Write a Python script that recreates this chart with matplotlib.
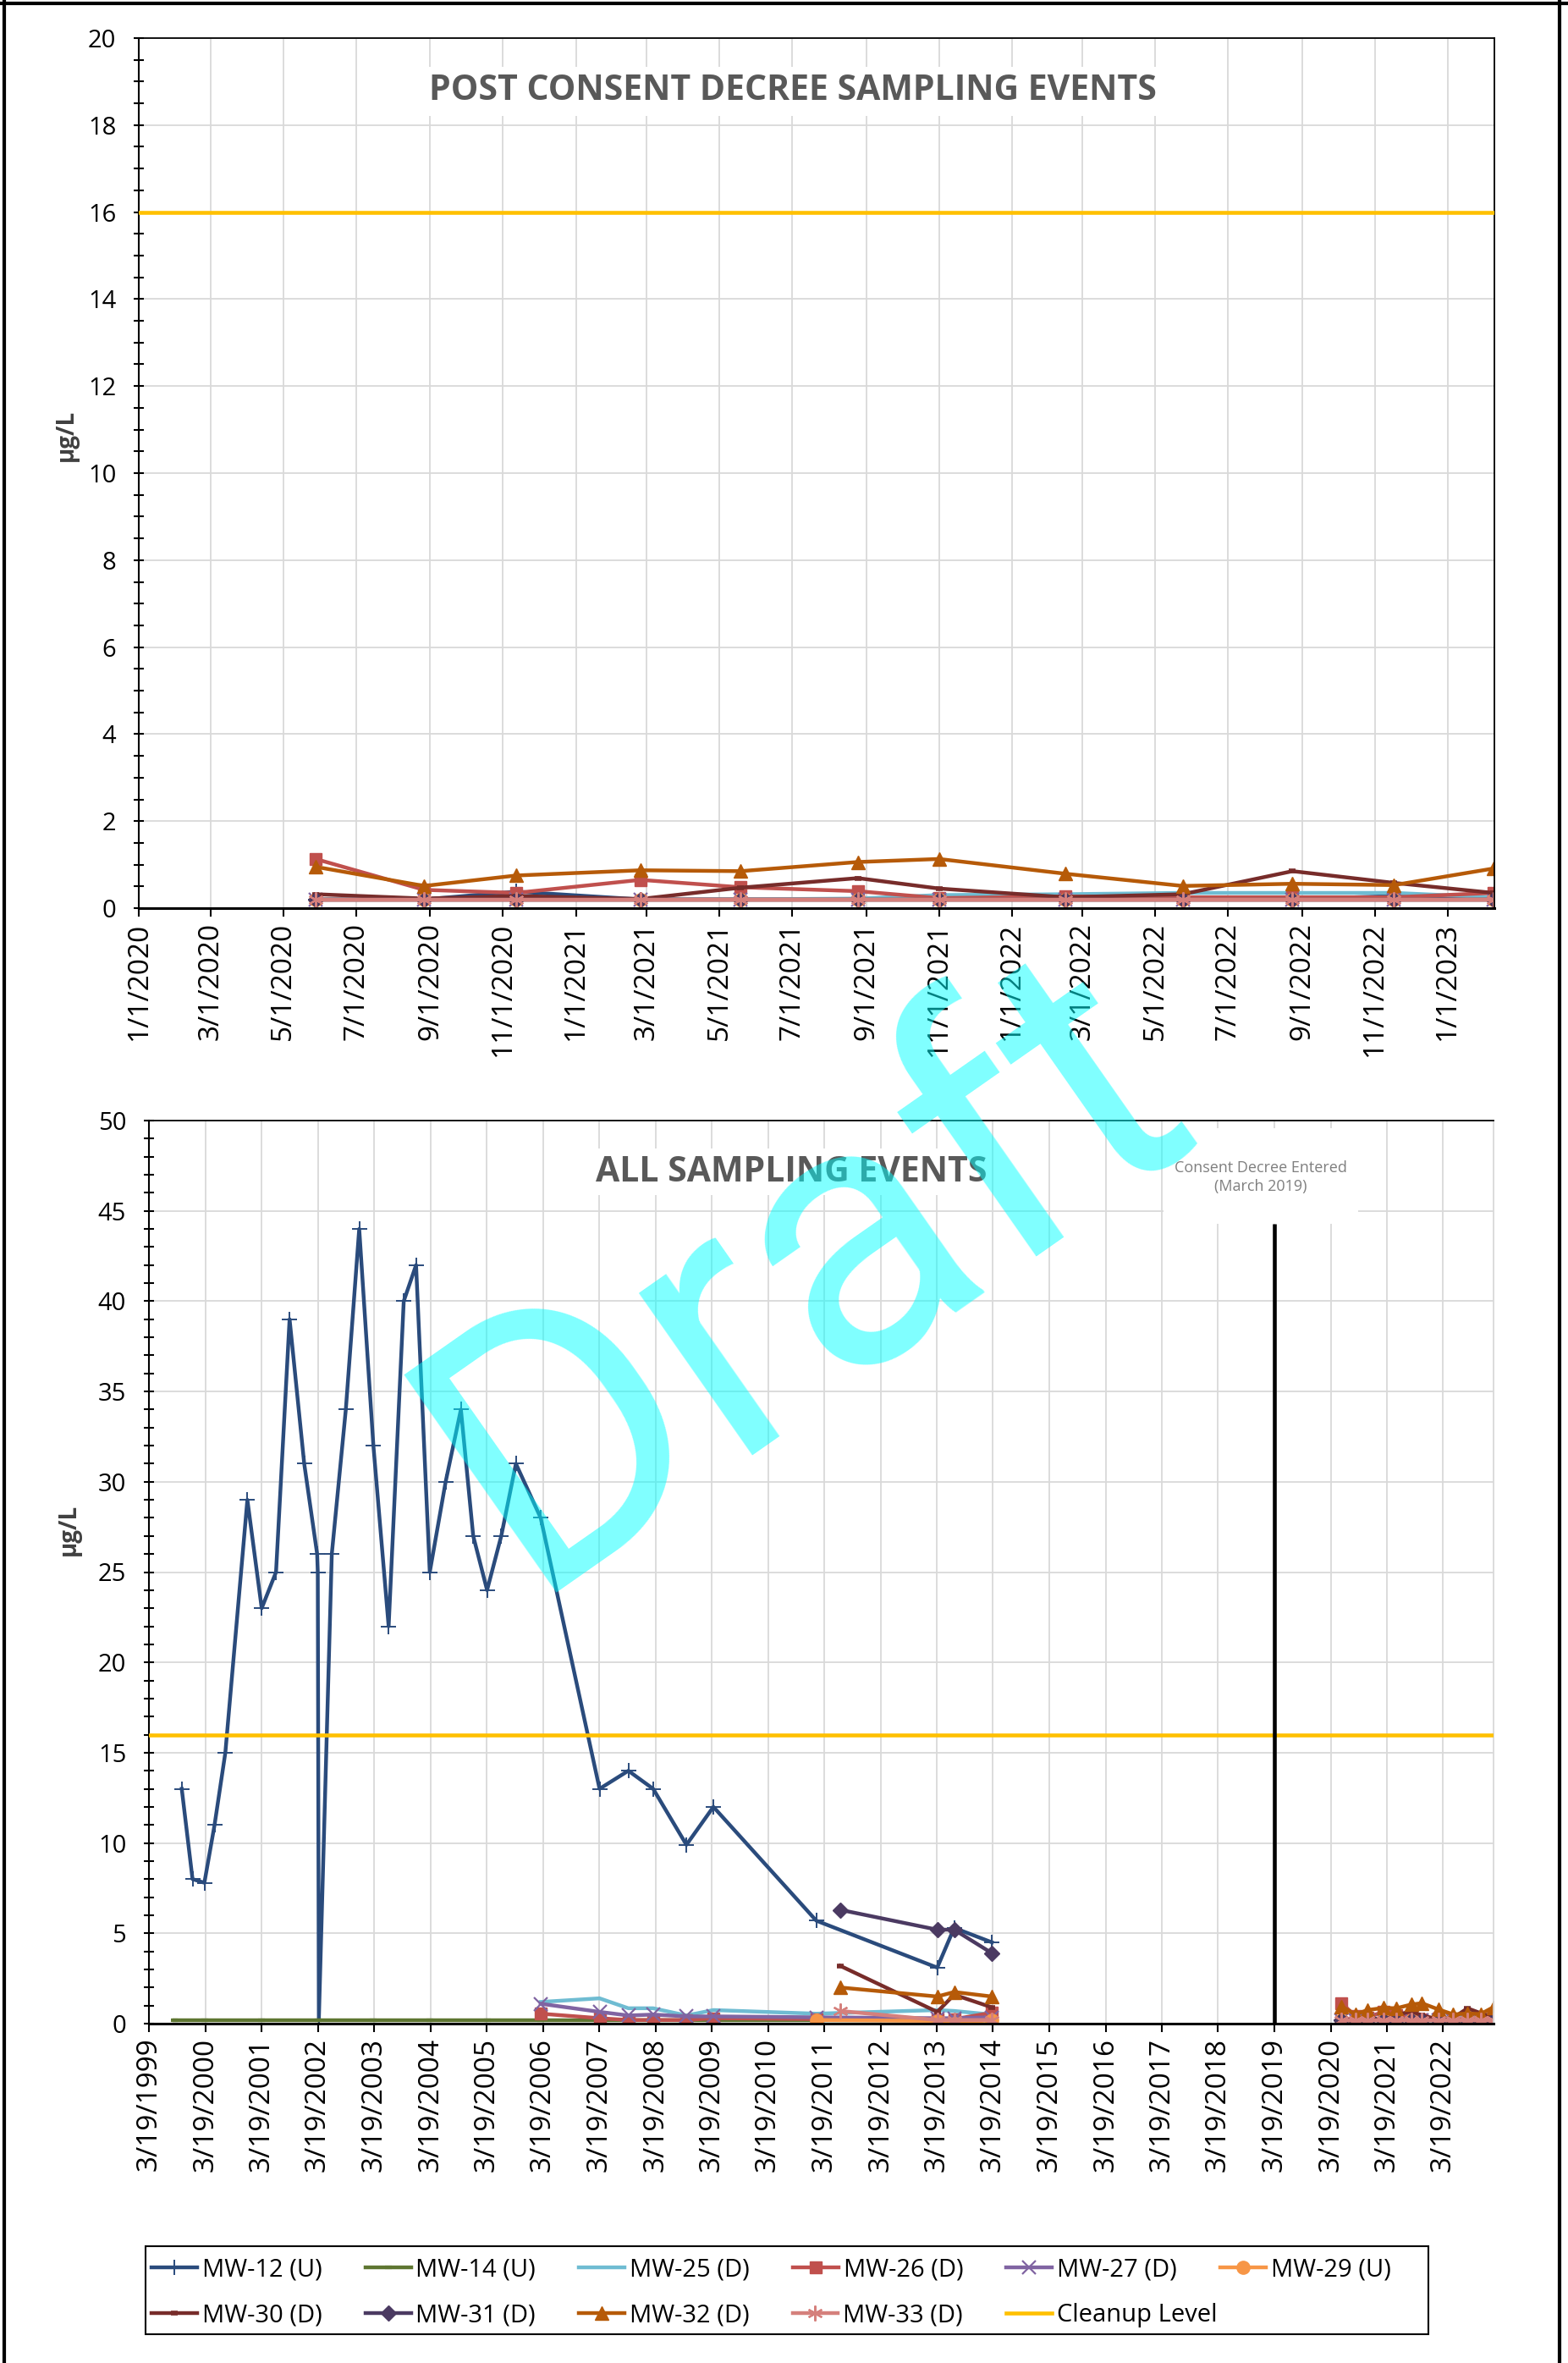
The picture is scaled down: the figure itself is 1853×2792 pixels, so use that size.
import matplotlib
matplotlib.use('Agg')
import numpy as np
import pandas as pd
import matplotlib.pyplot as plt
import matplotlib.dates as mdates
from matplotlib.lines import Line2D
from matplotlib.patches import Rectangle
from matplotlib.ticker import MultipleLocator

plt.rcParams['font.family'] = ['Open Sans', 'DejaVu Sans']

#--------------------- data --------------------------

names = ['MW-12 (U)', 'MW-14 (U)', 'MW-25 (D)', 'MW-26 (D)', 'MW-27 (D)', 'MW-29 (U)',
         'MW-30 (D)', 'MW-31 (D)', 'MW-32 (D)', 'MW-33 (D)']
cleanup_level = 16
consent_date = '2019-03-19'

# quarterly events after the consent decree
post_dates = ['2020-05-28', '2020-08-27', '2020-11-12', '2021-02-24', '2021-05-19', '2021-08-25',
              '2021-11-01', '2022-02-15', '2022-05-24', '2022-08-24', '2022-11-17', '2023-02-08']

mw12_dates = ['1999-10-18', '1999-12-27', '2000-03-13', '2000-05-18', '2000-07-27', '2000-12-17',
              '2001-03-20', '2001-06-21', '2001-09-17', '2001-12-21', '2002-03-15', '2002-03-19',
              '2002-03-26', '2002-06-18', '2002-09-17', '2002-12-13', '2003-03-15', '2003-06-22',
              '2003-09-28', '2003-12-17', '2004-03-15', '2004-06-26', '2004-10-03', '2004-12-22',
              '2005-03-22', '2005-06-22', '2005-09-25', '2006-03-05', '2007-03-22', '2007-09-25',
              '2008-03-04', '2008-10-06', '2009-03-30', '2011-01-27', '2013-03-22', '2013-07-10',
              '2014-03-12']
mw12_vals = [13, 8, 7.8, 11, 15, 29, 23, 25, 39, 31, 26, 25, 0.25, 26, 34, 44, 32, 22, 40, 42,
             25, 30, 34, 27, 24, 27, 31, 28, 13, 14, 13, 9.9, 12, 5.7, 3.1, 5.3, 4.5]
mw12_post = [0.2, 0.2, 0.38, 0.2, 0.2, 0.2, 0.2, 0.2, 0.2, 0.2, 0.28, 0.2]

mw14_dates = ['1999-09-01', '2000-03-13', '2001-03-20', '2002-03-19', '2003-03-15', '2004-03-15',
              '2005-03-22', '2006-03-05', '2007-03-22', '2008-03-04', '2009-03-30', '2011-01-27',
              '2013-03-22', '2014-03-12']
mw14_vals = [0.2, 0.2, 0.2, 0.2, 0.2, 0.2, 0.2, 0.2, 0.2, 0.2, 0.2, 0.2, 0.2, 0.2]

# wells first sampled in 2006
dates_2006 = ['2006-03-05', '2007-03-22', '2007-09-25', '2008-03-04', '2008-10-06', '2009-03-30',
              '2011-01-27', '2013-03-22', '2013-07-10', '2014-03-12']
mw25_vals = [1.2, 1.4, 0.85, 0.85, 0.45, 0.75, 0.55, 0.75, 0.7, 0.5]
mw26_vals = [0.55, 0.3, 0.2, 0.2, 0.2, 0.3, 0.25, 0.25, 0.25, 0.6]
mw27_vals = [1.1, 0.65, 0.45, 0.5, 0.4, 0.4, 0.35, 0.3, 0.3, 0.35]
mw25_post = [0.2, 0.2, 0.2, 0.2, 0.2, 0.22, 0.3, 0.32, 0.35, 0.35, 0.35, 0.25]
mw26_post = [1.13, 0.42, 0.35, 0.65, 0.48, 0.39, 0.23, 0.27, 0.25, 0.25, 0.25, 0.35]
mw27_post = [0.2, 0.2, 0.2, 0.2, 0.2, 0.2, 0.2, 0.2, 0.2, 0.2, 0.2, 0.2]

mw29_dates = ['2011-01-27', '2013-03-22', '2013-07-10', '2014-03-12']
mw29_vals = [0.2, 0.15, 0.02, 0.2]
mw29_post = [0.2, 0.2, 0.2, 0.2, 0.2, 0.2, 0.2, 0.2, 0.2, 0.2, 0.2, 0.2]

# wells first sampled in 2011
dates_2011 = ['2011-07-01', '2013-03-22', '2013-07-10', '2014-03-12']
mw30_vals = [3.2, 0.65, 1.6, 0.9]
mw31_vals = [6.3, 5.2, 5.2, 3.9]
mw32_vals = [2.0, 1.5, 1.75, 1.5]
mw33_vals = [0.7, 0.2, 0.2, 0.2]
mw30_post = [0.32, 0.22, 0.28, 0.21, 0.47, 0.69, 0.45, 0.25, 0.32, 0.85, 0.58, 0.35]
mw31_post = [0.2, 0.2, 0.2, 0.2, 0.2, 0.2, 0.2, 0.2, 0.2, 0.2, 0.2, 0.2]
mw32_post = [0.95, 0.51, 0.75, 0.87, 0.85, 1.06, 1.13, 0.79, 0.51, 0.56, 0.53, 0.91]
mw33_post = [0.2, 0.2, 0.2, 0.2, 0.2, 0.2, 0.2, 0.2, 0.2, 0.2, 0.2, 0.2]

top_ticks = ['1/1/2020', '3/1/2020', '5/1/2020', '7/1/2020', '9/1/2020', '11/1/2020',
             '1/1/2021', '3/1/2021', '5/1/2021', '7/1/2021', '9/1/2021', '11/1/2021',
             '1/1/2022', '3/1/2022', '5/1/2022', '7/1/2022', '9/1/2022', '11/1/2022', '1/1/2023']
bottom_ticks = ['3/19/1999', '3/19/2000', '3/19/2001', '3/19/2002', '3/19/2003', '3/19/2004',
                '3/19/2005', '3/19/2006', '3/19/2007', '3/19/2008', '3/19/2009', '3/19/2010',
                '3/19/2011', '3/19/2012', '3/19/2013', '3/19/2014', '3/19/2015', '3/19/2016',
                '3/19/2017', '3/19/2018', '3/19/2019', '3/19/2020', '3/19/2021', '3/19/2022']

series = {
    'MW-12 (U)': (mw12_dates, mw12_vals, mw12_post),
    'MW-14 (U)': (mw14_dates, mw14_vals, None),
    'MW-25 (D)': (dates_2006, mw25_vals, mw25_post),
    'MW-26 (D)': (dates_2006, mw26_vals, mw26_post),
    'MW-27 (D)': (dates_2006, mw27_vals, mw27_post),
    'MW-29 (U)': (mw29_dates, mw29_vals, mw29_post),
    'MW-30 (D)': (dates_2011, mw30_vals, mw30_post),
    'MW-31 (D)': (dates_2011, mw31_vals, mw31_post),
    'MW-32 (D)': (dates_2011, mw32_vals, mw32_post),
    'MW-33 (D)': (dates_2011, mw33_vals, mw33_post),
}

styles = {
    'MW-12 (U)': dict(color='#2A4B7C', marker='+', ms=13, mew=1.4),
    'MW-14 (U)': dict(color='#5E7631', marker='_', ms=6, mew=3),
    'MW-25 (D)': dict(color='#6FBCD2', marker=None),
    'MW-26 (D)': dict(color='#C0504D', marker='s', ms=10),
    'MW-27 (D)': dict(color='#8064A2', marker='x', ms=11, mew=1.6),
    'MW-29 (U)': dict(color='#F79646', marker='o', ms=11),
    'MW-30 (D)': dict(color='#772C2A', marker='_', ms=6, mew=4),
    'MW-31 (D)': dict(color='#4B3A62', marker='D', ms=9),
    'MW-32 (D)': dict(color='#B65A08', marker='^', ms=12),
    'MW-33 (D)': dict(color='#D5807C', marker=(6, 2, 0), ms=13, mew=1.6),
}
LW = 3.2

#--------------------- figure --------------------------

W, H = 1853, 2792
fig = plt.figure(figsize=(W / 100, H / 100), dpi=100)
fig.patch.set_facecolor('white')

ax1 = fig.add_axes([164 / W, 1 - 1073 / H, (1766 - 164) / W, (1073 - 45) / H])
ax2 = fig.add_axes([176 / W, 1 - 2391 / H, (1765 - 176) / W, (2391 - 1324) / H])

post = pd.to_datetime(post_dates)
for name in names:
    d, v, pv = series[name]
    st = styles[name]
    ax2.plot(pd.to_datetime(d), v, lw=LW, label=name, **st)
    if pv is not None:
        ax2.plot(post, pv, lw=LW, label='_nolegend_', **st)
        ax1.plot(post, pv, lw=LW, **st)

for ax in (ax1, ax2):
    ax.axhline(cleanup_level, color='#FFC000', lw=3.3, label='Cleanup Level', zorder=3)

ax2.vlines(pd.Timestamp(consent_date), 0, 44.3, color='black', lw=3.3, zorder=4)

ax1.set_xlim(pd.Timestamp('2020-01-01'), pd.Timestamp('2023-02-09'))
ax2.set_xlim(pd.Timestamp('1999-03-19'), pd.Timestamp('2023-02-09'))
ax1.set_ylim(0, 20)
ax2.set_ylim(0, 50)
ax1.yaxis.set_major_locator(MultipleLocator(2))
ax1.yaxis.set_minor_locator(MultipleLocator(0.5))
ax2.yaxis.set_major_locator(MultipleLocator(5))
ax2.yaxis.set_minor_locator(MultipleLocator(1))

for ax, ticks in ((ax1, top_ticks), (ax2, bottom_ticks)):
    tdates = pd.to_datetime(ticks, format='%m/%d/%Y')
    ax.set_xticks(mdates.date2num(tdates))
    ax.set_xticklabels(ticks)
    ax.tick_params(axis='x', direction='out', length=7, width=1.5, pad=5,
                   labelsize=24, labelrotation=90)
    ax.tick_params(axis='y', which='both', direction='inout', length=8.6, width=1.5,
                   pad=15, labelsize=21)
    ax.grid(True, which='major', color='#D9D9D9', lw=1.3)
    ax.set_axisbelow(True)
    ax.spines['left'].set_linewidth(1.5)
    ax.spines['bottom'].set_linewidth(2.2)
    ax.spines['top'].set_linewidth(1.3)

ax1.spines['right'].set_linewidth(1.3)
ax2.spines['right'].set_color('#D9D9D9')
ax2.spines['right'].set_linewidth(1.3)

# titles with white boxes over the gridlines
ax1.add_patch(Rectangle((499 / W, 1 - 137 / H), 879 / W, 58 / H, transform=fig.transFigure,
                        fc='white', ec='none', zorder=1))
ax1.text(937 / W, 1 - 108 / H, 'POST CONSENT DECREE SAMPLING EVENTS', transform=fig.transFigure,
         ha='center', va='center', fontsize=29.5, fontweight='bold', color='#595959', zorder=1.5)
ax2.add_patch(Rectangle((707 / W, 1 - 1412 / H), 463 / W, 55 / H, transform=fig.transFigure,
                        fc='white', ec='none', zorder=1))
ax2.text(935 / W, 1 - 1386 / H, 'ALL SAMPLING EVENTS', transform=fig.transFigure,
         ha='center', va='center', fontsize=29.5, fontweight='bold', color='#595959', zorder=1.5)
ax2.add_patch(Rectangle((1375 / W, 1 - 1446 / H), 230 / W, 113 / H, transform=fig.transFigure,
                        fc='white', ec='none', zorder=1))
ax2.text(1490 / W, 1 - 1391 / H, 'Consent Decree Entered\n(March 2019)', transform=fig.transFigure,
         ha='center', va='center', fontsize=13, color='#7F7F7F', linespacing=1.35, zorder=1.5)

fig.text(78 / W, 1 - 514 / H, 'µg/L', rotation=90, ha='center', va='center',
         fontsize=20, fontweight='bold', color='#404040')
fig.text(81 / W, 1 - 1807 / H, 'µg/L', rotation=90, ha='center', va='center',
         fontsize=20, fontweight='bold', color='#404040')

# legend: two rows with equal column widths, inside one frame
h, l = ax2.get_legend_handles_labels()
leg_kw = dict(loc='center left', borderaxespad=0, frameon=False, fontsize=21,
              handlelength=1.85, handletextpad=0.2, columnspacing=1.75, borderpad=0)
leg1 = fig.legend(h[:6], l[:6], ncol=6, bbox_to_anchor=(179 / W, 1 - 2682 / H), **leg_kw)
leg2 = fig.legend(h[6:], l[6:], ncol=5, bbox_to_anchor=(179 / W, 1 - 2736 / H), **leg_kw)
fig.add_artist(Rectangle((172 / W, 1 - 2758 / H), (1688 - 172) / W, (2758 - 2654) / H,
                         transform=fig.transFigure, fill=False, ec='black', lw=1.5))

# page border
for xs, ys in (([5 / W, 5 / W], [0, 1]), ([1843 / W, 1843 / W], [0, 1]),
               ([0, 1], [1 - 4 / H, 1 - 4 / H])):
    fig.add_artist(Line2D(xs, ys, transform=fig.transFigure, color='black', lw=3))

fig.text(1022 / W, 1 - 1601 / H, 'Draft', rotation=35, rotation_mode='anchor',
         ha='center', va='baseline', fontsize=318, family='Roboto',
         color='#00FFFF', alpha=0.5, zorder=10)

fig.savefig('out.png', dpi=100)
